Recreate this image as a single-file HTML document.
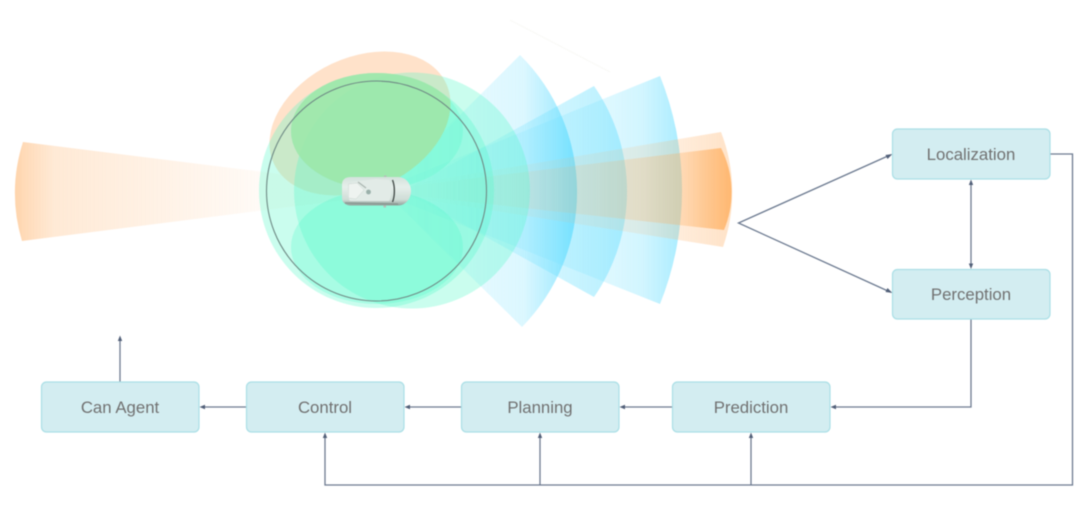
<!DOCTYPE html>
<html>
<head>
<meta charset="utf-8">
<style>
html,body{margin:0;padding:0;background:#fff;width:1080px;height:531px;overflow:hidden}
svg{display:block;filter:blur(0.55px)}
text{font-family:"Liberation Sans",sans-serif;font-size:16.8px;fill:#717171;text-anchor:middle}
.b{fill:#d3edf1;stroke:#aadfe6;stroke-width:1.2}
.l{fill:none;stroke:#6c7a90;stroke-width:1.3}
.a{fill:#515f78}
</style>
</head>
<body>
<svg width="1080" height="531" viewBox="0 0 1080 531" xmlns="http://www.w3.org/2000/svg">
<defs>
<clipPath id="oc"><ellipse cx="360" cy="123.5" rx="95" ry="66" transform="rotate(-25 360 123.5)"/></clipPath>
<linearGradient id="w1" gradientUnits="userSpaceOnUse" x1="400" y1="0" x2="577" y2="0">
<stop offset="0" stop-color="#5fdcff" stop-opacity="0.08"/>
<stop offset="0.45" stop-color="#5fdcff" stop-opacity="0.17"/>
<stop offset="0.7" stop-color="#5fdcff" stop-opacity="0.22"/>
<stop offset="0.88" stop-color="#5fdcff" stop-opacity="0.5"/>
<stop offset="1" stop-color="#5fdcff" stop-opacity="0.75"/>
</linearGradient>
<linearGradient id="w2" gradientUnits="userSpaceOnUse" x1="430" y1="0" x2="627" y2="0">
<stop offset="0" stop-color="#6ce0ff" stop-opacity="0.08"/>
<stop offset="0.6" stop-color="#6ce0ff" stop-opacity="0.3"/>
<stop offset="1" stop-color="#6ce0ff" stop-opacity="0.5"/>
</linearGradient>
<linearGradient id="w3" gradientUnits="userSpaceOnUse" x1="420" y1="0" x2="682" y2="0">
<stop offset="0" stop-color="#70e0ff" stop-opacity="0.1"/>
<stop offset="0.7" stop-color="#70e0ff" stop-opacity="0.22"/>
<stop offset="0.85" stop-color="#70e0ff" stop-opacity="0.32"/>
<stop offset="1" stop-color="#70e0ff" stop-opacity="0.6"/>
</linearGradient>
<linearGradient id="o1" gradientUnits="userSpaceOnUse" x1="440" y1="0" x2="731" y2="0">
<stop offset="0" stop-color="#ffb066" stop-opacity="0.02"/>
<stop offset="0.7" stop-color="#ffb066" stop-opacity="0.15"/>
<stop offset="1" stop-color="#ffb066" stop-opacity="0.36"/>
</linearGradient>
<linearGradient id="o2" gradientUnits="userSpaceOnUse" x1="420" y1="0" x2="731" y2="0">
<stop offset="0" stop-color="#ffaa55" stop-opacity="0.02"/>
<stop offset="0.55" stop-color="#ffaa55" stop-opacity="0.14"/>
<stop offset="0.85" stop-color="#ffaa55" stop-opacity="0.3"/>
<stop offset="1" stop-color="#ffaa55" stop-opacity="0.75"/>
</linearGradient>
<linearGradient id="o3" gradientUnits="userSpaceOnUse" x1="14" y1="0" x2="265" y2="0">
<stop offset="0" stop-color="#ffb066" stop-opacity="0.55"/>
<stop offset="0.05" stop-color="#ffb066" stop-opacity="0.45"/>
<stop offset="0.16" stop-color="#ffb066" stop-opacity="0.27"/>
<stop offset="0.6" stop-color="#ffb066" stop-opacity="0.16"/>
<stop offset="1" stop-color="#ffb066" stop-opacity="0.05"/>
</linearGradient>
<linearGradient id="car" x1="0" y1="0" x2="0" y2="1">
<stop offset="0" stop-color="#d4e2dc"/>
<stop offset="0.35" stop-color="#e6efeb"/>
<stop offset="0.8" stop-color="#cfdcd6"/>
<stop offset="1" stop-color="#8f9e98"/>
</linearGradient>
</defs>

<!-- faint line -->
<path d="M510 20 L610 72" stroke="#f9f9f6" stroke-width="1" fill="none"/>

<!-- left orange wedge -->
<path d="M23 142 L376 186 L376 196 L22 241 A165 165 0 0 1 23 142Z" fill="url(#o3)"/>

<!-- blue wedges -->
<path d="M376 191 L660 76 A306 306 0 0 1 660 304Z" fill="url(#w3)"/>
<path d="M403 191 L594 86 A185 185 0 0 1 594 297Z" fill="url(#w2)"/>
<path d="M384 191 L520 55 A193 193 0 0 1 522 327Z" fill="url(#w1)"/>

<!-- orange wedges on right -->
<path d="M370 191 L721 132 A167 167 0 0 1 723 247Z" fill="url(#o1)"/>
<path d="M370 191 L721 148 A98 98 0 0 1 724 230Z" fill="url(#o2)"/>

<!-- orange petal -->
<ellipse cx="360" cy="123.5" rx="95" ry="66" transform="rotate(-25 360 123.5)" fill="#ffe2ca"/>

<!-- mint circles -->
<circle cx="376.5" cy="190.5" r="117.5" fill="#50f8c8" fill-opacity="0.3"/>
<circle cx="412" cy="190.5" r="118" fill="#50f8c8" fill-opacity="0.3"/>

<!-- mint petals -->
<ellipse cx="377" cy="131" rx="86" ry="58" fill="#50f8c8" fill-opacity="0.28"/>
<ellipse cx="377" cy="247" rx="86" ry="57" fill="#50f8c8" fill-opacity="0.28"/>

<!-- overlap tint -->
<g clip-path="url(#oc)">
<ellipse cx="377" cy="131" rx="86" ry="58" fill="#a0e6a8" fill-opacity="0.85"/>
</g>

<!-- sensor circle -->
<circle cx="376.5" cy="191" r="110" fill="none" stroke="#6f8a85" stroke-width="1.1"/>

<!-- car -->
<g>
<rect x="384" y="175.500" width="2.500" height="3" fill="#b4bdb8"/>
<rect x="383.500" y="204.500" width="2.500" height="3" fill="#b4bdb8"/>
<path d="M351 177 L398 177 C406 177 411 184 411 191 C411 198 406 205.500 398 205.500 L351 205.500 C345 205.500 342 202 342 198 L342 184.500 C342 180 345 177 351 177Z" fill="url(#car)"/>
<path d="M352 182 L376 179 L389 180 C392 186 392 196 389 201 L350 201 C346 195 347 186 352 182Z" fill="#e2ebe7"/>
<path d="M348.500 184 L357 183 L364 190 L356 199 L348.500 198Z" fill="#eef3f0" stroke="#cdd7d2" stroke-width=".5"/>
<path d="M358 182 L366 188" stroke="#aab5b0" stroke-width="1.200"/>
<circle cx="368.500" cy="192" r="2.400" fill="#9ab0aa"/>
<path d="M392.500 180 C395 186 395 196 392.500 202" fill="none" stroke="#3e4643" stroke-width="1.300"/>
<path d="M345 203 L398 204" stroke="#8a9993" stroke-width="1.500" fill="none"/>
</g>

<!-- connectors -->
<path class="l" d="M889 155.500 L738.500 223 L889 291.500"/>
<polygon class="a" points="892.500,154 885.500,155 887.500,159"/>
<polygon class="a" points="892.500,293 887.500,288 885.500,292"/>
<path class="l" d="M971 183 V265"/>
<polygon class="a" points="971,179.500 968.800,185 973.200,185"/>
<polygon class="a" points="971,269 968.800,263.500 973.200,263.500"/>
<path class="l" d="M1050 154 H1072.500 V485 H325 V436"/>
<polygon class="a" points="325,432.500 322.800,438 327.200,438"/>
<path class="l" d="M540 485 V436"/>
<polygon class="a" points="540,432.500 537.800,438 542.200,438"/>
<path class="l" d="M751 485 V436"/>
<polygon class="a" points="751,432.500 748.800,438 753.200,438"/>
<path class="l" d="M971 319 V407 H835"/>
<polygon class="a" points="830.500,407 836,404.800 836,409.200"/>
<path class="l" d="M672 407 H623"/>
<polygon class="a" points="619.500,407 625,404.800 625,409.200"/>
<path class="l" d="M461 407 H408"/>
<polygon class="a" points="404.500,407 410,404.800 410,409.200"/>
<path class="l" d="M246 407 H203"/>
<polygon class="a" points="199.500,407 205,404.800 205,409.200"/>
<path class="l" d="M120 382 V340"/>
<polygon class="a" points="120,335.500 117.800,341 122.200,341"/>

<!-- boxes -->
<rect class="b" x="892.500" y="129" width="157.500" height="50" rx="5"/>
<text x="971" y="160">Localization</text>
<rect class="b" x="892.500" y="269.500" width="157.500" height="49.500" rx="5"/>
<text x="971" y="300">Perception</text>
<rect class="b" x="41.500" y="382" width="157.500" height="50" rx="5"/>
<text x="120" y="413">Can Agent</text>
<rect class="b" x="246.500" y="382" width="157.500" height="50" rx="5"/>
<text x="325" y="413">Control</text>
<rect class="b" x="461.500" y="382" width="157.500" height="50" rx="5"/>
<text x="540" y="413">Planning</text>
<rect class="b" x="672.500" y="382" width="157.500" height="50" rx="5"/>
<text x="751" y="413">Prediction</text>
</svg>
</body>
</html>
